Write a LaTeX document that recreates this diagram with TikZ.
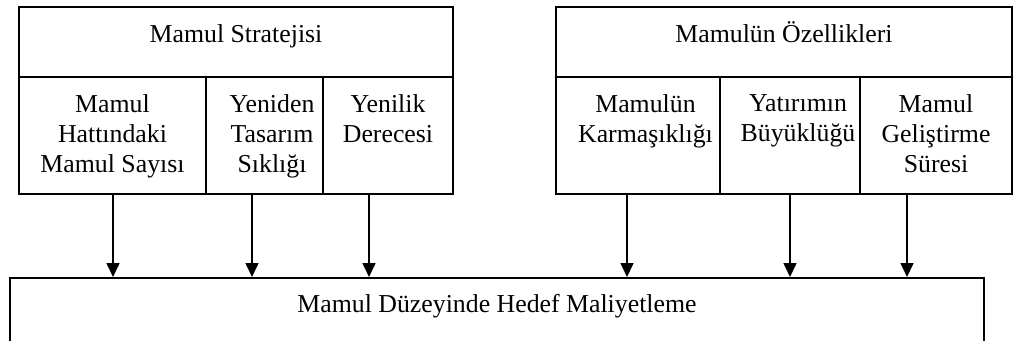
\documentclass[tikz,border=0pt]{standalone}
\usepackage{fontspec}
\setmainfont{Liberation Serif}
\usetikzlibrary{arrows.meta}
\tikzset{
  kutu/.style={draw, line width=1.6pt, inner sep=0pt},
  yazi/.style={align=center, inner sep=0pt, font=\fontsize{25.8}{30}\selectfont},
  ok/.style={line width=1.6pt, -{Triangle[width=13pt,length=14pt]}}
}
\begin{document}
\begin{tikzpicture}[x=1pt,y=-1pt]
\clip (0,0) rectangle (1014,340);

%левая группа
\node[kutu, minimum width=434pt, minimum height=70pt] (strateji) at (236,42) {};
\node[kutu, minimum width=187pt, minimum height=117pt] (sayi) at (112.5,135.5) {};
\node[kutu, minimum width=117pt, minimum height=117pt] (siklik) at (264.5,135.5) {};
\node[kutu, minimum width=130pt, minimum height=117pt] (yenilik) at (388,135.5) {};

\node[yazi, anchor=base] (stratejiT) at (strateji.center) {Mamul Stratejisi};
\node[yazi, anchor=north] (sayiT) at (112.5,94.5) {Mamul\\Hattındaki\\Mamul Sayısı};
\node[yazi, anchor=north] (siklikT) at (272,94.5) {Yeniden\\Tasarım\\Sıklığı};
\node[yazi, anchor=north] (yenilikT) at (388,94.5) {Yenilik\\Derecesi};

%правая группа
\node[kutu, minimum width=456pt, minimum height=70pt] (ozellik) at (784,42) {};
\node[kutu, minimum width=164pt, minimum height=117pt] (karmasik) at (638,135.5) {};
\node[kutu, minimum width=140pt, minimum height=117pt] (yatirim) at (790,135.5) {};
\node[kutu, minimum width=152pt, minimum height=117pt] (sure) at (936,135.5) {};

\node[yazi, anchor=base] (ozellikT) at (ozellik.center) {Mamulün Özellikleri};
\node[yazi, anchor=north] (karmasikT) at (645.5,94.5) {Mamulün\\Karmaşıklığı};
\node[yazi, anchor=north] (yatirimT) at (798,94.5) {Yatırımın\\Büyüklüğü};
\node[yazi, anchor=north] (sureT) at (936,94.5) {Mamul\\Geliştirme\\Süresi};

%нижний блок
\node[kutu, minimum width=974pt, minimum height=120pt, anchor=north] (hedef) at (497,277) {};
\node[yazi, anchor=base] (hedefT) at (497,312) {Mamul Düzeyinde Hedef Maliyetleme};

%стрелки
\draw[ok] ([xshift=0.5pt]sayi.south) -- ([xshift=0.5pt]sayi.south |- hedef.north);
\draw[ok] ([xshift=-12.5pt]siklik.south) -- ([xshift=-12.5pt]siklik.south |- hedef.north);
\draw[ok] ([xshift=-19pt]yenilik.south) -- ([xshift=-19pt]yenilik.south |- hedef.north);
\draw[ok] ([xshift=-11pt]karmasik.south) -- ([xshift=-11pt]karmasik.south |- hedef.north);
\draw[ok] (yatirim.south) -- (yatirim.south |- hedef.north);
\draw[ok] ([xshift=-29pt]sure.south) -- ([xshift=-29pt]sure.south |- hedef.north);

\end{tikzpicture}
\end{document}
